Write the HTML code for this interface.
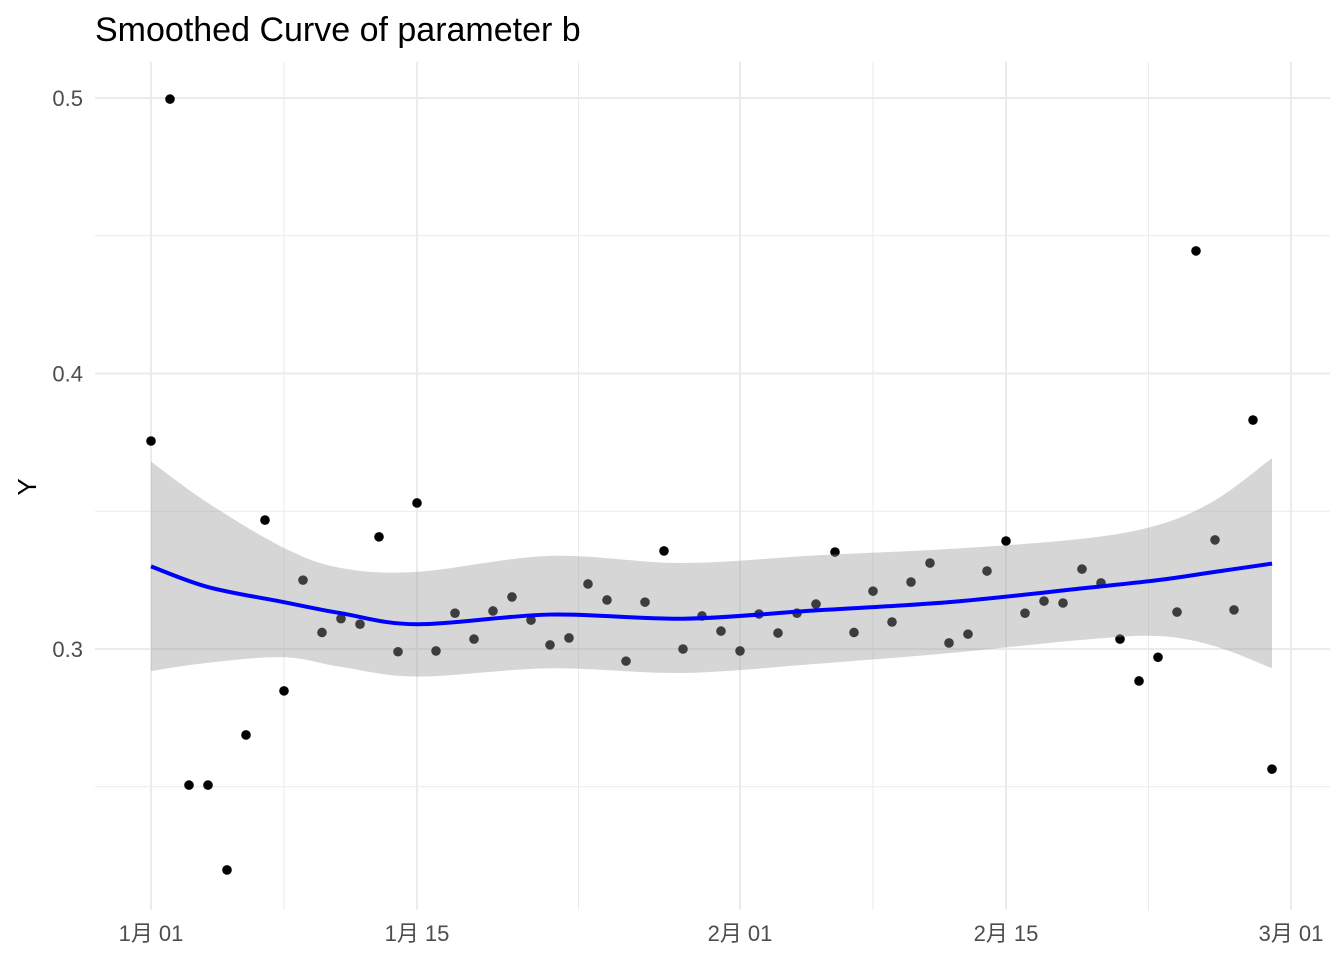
<!DOCTYPE html>
<html><head><meta charset="utf-8">
<style>
body{margin:0;background:#fff;}
svg text{font-family:"Liberation Sans","Noto Sans CJK SC",sans-serif;}
</style></head>
<body>
<svg id="chart" width="1344" height="960" xmlns="http://www.w3.org/2000/svg">
<text x="95" y="41" font-size="34" fill="#000">Smoothed Curve of parameter b</text>
<text transform="translate(36,487) rotate(-90)" font-size="26" text-anchor="middle" fill="#000">Y</text>
<g id="grid"></g><g id="pts"></g><g id="band"></g><g id="line"></g><g id="ticks"></g>
</svg>
<script>
const pointValues=[0.3755,0.4996,0.2506,0.2506,0.2198,0.2688,0.3468,0.2848,0.325,0.306,0.311,0.309,0.3407,0.299,0.353,0.2993,0.313,0.3036,0.3138,0.3189,0.3105,0.3015,0.304,0.3236,0.3178,0.2956,0.317,0.3356,0.3,0.312,0.3065,0.2993,0.3127,0.3058,0.313,0.3163,0.3352,0.306,0.321,0.3098,0.3243,0.3312,0.3022,0.3054,0.3283,0.3392,0.313,0.3174,0.3167,0.329,0.324,0.3036,0.2884,0.297,0.3134,0.4445,0.3396,0.3142,0.3831,0.2564];
const smoothDays=[0,3,7,10,14,21,28,35,42,49,53,56,59];
const smoothFit=[0.330,0.3225,0.317,0.313,0.309,0.3125,0.311,0.314,0.317,0.322,0.325,0.328,0.331];
const smoothUpper=[0.368,0.353,0.3367,0.3294,0.328,0.3338,0.3312,0.334,0.3363,0.340,0.345,0.354,0.3693];
const smoothLower=[0.292,0.295,0.297,0.2935,0.290,0.293,0.2913,0.2946,0.2985,0.3033,0.3047,0.301,0.293];
const xTickDays=[0,14,31,45,60];
const xTickLabels=["1月 01","1月 15","2月 01","2月 15","3月 01"];
const xMinorDays=[7,22.5,38,52.5];
const yTicks=[0.3,0.4,0.5];
const yMinor=[0.25,0.35,0.45];
const X=d=>151+19*d;
const Y=v=>649-(v-0.3)*2755;
const NS="http://www.w3.org/2000/svg";
function mk(parent,tag,attrs){const e=document.createElementNS(NS,tag);for(const k in attrs)e.setAttribute(k,attrs[k]);document.getElementById(parent).appendChild(e);return e;}
function smoothPath(p,start){let s=start?'M'+p[0][0]+','+p[0][1]:'L'+p[0][0]+','+p[0][1];
for(let i=0;i<p.length-1;i++){const p0=p[Math.max(i-1,0)],p1=p[i],p2=p[i+1],p3=p[Math.min(i+2,p.length-1)];
s+='C'+(p1[0]+(p2[0]-p0[0])/6)+','+(p1[1]+(p2[1]-p0[1])/6)+' '+(p2[0]-(p3[0]-p1[0])/6)+','+(p2[1]-(p3[1]-p1[1])/6)+' '+p2[0]+','+p2[1];}
return s;}
const L=95,R=1330,T=62,B=910;
yMinor.forEach(v=>{const e=mk('grid','line',{x1:L,x2:R,y1:Y(v),y2:Y(v),stroke:'#ebebeb','stroke-width':1});

});
xMinorDays.forEach(d=>{const e=mk('grid','line',{x1:X(d),x2:X(d),y1:T,y2:B,stroke:'#ebebeb','stroke-width':1});

});
yTicks.forEach(v=>{const e=mk('grid','line',{x1:L,x2:R,y1:Y(v),y2:Y(v),stroke:'#ebebeb','stroke-width':2});


const t=mk('ticks','text',{x:83,y:Y(v)+8,'font-size':22,'text-anchor':'end',fill:'#4d4d4d'});t.textContent=v.toFixed(1);

});
xTickDays.forEach((d,i)=>{const e=mk('grid','line',{x1:X(d),x2:X(d),y1:T,y2:B,stroke:'#ebebeb','stroke-width':2});


const t=mk('ticks','text',{x:X(d),y:941,'font-size':22,'text-anchor':'middle',fill:'#4d4d4d'});t.textContent=xTickLabels[i];

});
pointValues.forEach((v,i)=>{const c=mk('pts','circle',{cx:X(i),cy:Y(v),r:4.8,fill:'#000'});

});
const up=smoothDays.map((x,i)=>[X(x),Y(smoothUpper[i])]);
const lo=smoothDays.map((x,i)=>[X(x),Y(smoothLower[i])]).reverse();
const band=mk('band','path',{d:smoothPath(up,true)+smoothPath(lo,false)+'Z',fill:'#999',opacity:0.4});


const fit=smoothDays.map((x,i)=>[X(x),Y(smoothFit[i])]);
const ln=mk('line','path',{d:smoothPath(fit,true),fill:'none',stroke:'#0000ff','stroke-width':4,'stroke-linejoin':'round'});


</script>
</body></html>
